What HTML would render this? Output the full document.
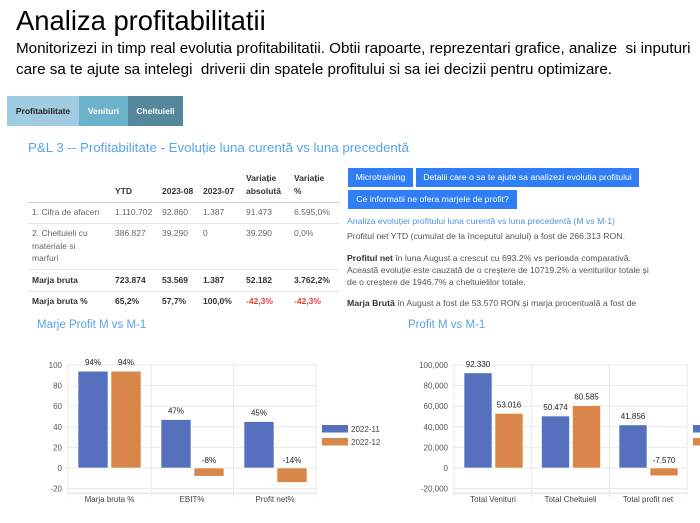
<!DOCTYPE html>
<html><head><meta charset="utf-8">
<style>
*{margin:0;padding:0;box-sizing:border-box}
html,body{width:700px;height:523px;overflow:hidden;background:#fff}
body{position:relative;font-family:"Liberation Sans",sans-serif;color:#333}
.a{position:absolute;white-space:nowrap}
.tab{position:absolute;top:96px;height:30px;line-height:30px;font-size:8.5px;font-weight:bold;text-align:center}
.btn{position:absolute;background:#2f7ef6;color:#fff;font-size:8.7px;text-align:center;height:19px;line-height:19px}
.t{position:absolute;font-size:8.5px;line-height:12.5px;white-space:nowrap}
.h{font-weight:bold;color:#333}
.b{color:#666}
.m{font-weight:bold;color:#333}
.r{color:#ee3b3b}
.line{position:absolute;left:28px;width:311px;height:1px;background:#e6e6e6}
.p{position:absolute;left:347px;font-size:8.7px;line-height:12px;color:#555;white-space:nowrap}
.p b{color:#333}
</style></head><body>

<div class="a" style="left:16px;top:5px;font-size:27.4px;line-height:32px;color:#000;">Analiza profitabilitatii</div>
<div class="a" style="left:16px;top:38px;font-size:15.2px;line-height:21px;color:#000;">Monitorizezi in timp real evolutia profitabilitatii. Obtii rapoarte, reprezentari grafice, analize&nbsp; si inputuri<br>care sa te ajute sa intelegi&nbsp; driverii din spatele profitului si sa iei decizii pentru optimizare.</div>

<div class="tab" style="left:7px;width:72px;background:#a0cbe3;color:#222;">Profitabilitate</div>
<div class="tab" style="left:79px;width:49px;background:#6db2cb;color:#fff;">Venituri</div>
<div class="tab" style="left:128px;width:55px;background:#55889d;color:#fff;">Cheltuieli</div>

<div class="a" style="left:28px;top:140px;font-size:13.3px;line-height:16px;color:#5aa2e6;">P&amp;L 3 -- Profitabilitate - Evoluție luna curentă vs luna precedentă</div>

<!-- table -->
<div class="t h" style="left:246px;top:172px;">Variație<br>absolută</div>
<div class="t h" style="left:294px;top:172px;">Variație<br>%</div>
<div class="t h" style="left:115px;top:185px;">YTD</div>
<div class="t h" style="left:162px;top:185px;">2023-08</div>
<div class="t h" style="left:203px;top:185px;">2023-07</div>
<div class="line" style="top:202px;background:#cfcfcf;"></div>

<div class="t b" style="left:32px;top:206px;">1. Cifra de afaceri</div>
<div class="t b" style="left:115px;top:206px;">1.110.702</div>
<div class="t b" style="left:162px;top:206px;">92.860</div>
<div class="t b" style="left:203px;top:206px;">1.387</div>
<div class="t b" style="left:246px;top:206px;">91.473</div>
<div class="t b" style="left:294px;top:206px;">6.595,0%</div>
<div class="line" style="top:223px;"></div>

<div class="t b" style="left:32px;top:227px;">2. Cheltuieli cu<br>materiale si<br>marfuri</div>
<div class="t b" style="left:115px;top:227px;">386.827</div>
<div class="t b" style="left:162px;top:227px;">39.290</div>
<div class="t b" style="left:203px;top:227px;">0</div>
<div class="t b" style="left:246px;top:227px;">39.290</div>
<div class="t b" style="left:294px;top:227px;">0,0%</div>
<div class="line" style="top:269px;"></div>

<div class="t m" style="left:32px;top:274px;">Marja bruta</div>
<div class="t m" style="left:115px;top:274px;">723.874</div>
<div class="t m" style="left:162px;top:274px;">53.569</div>
<div class="t m" style="left:203px;top:274px;">1.387</div>
<div class="t m" style="left:246px;top:274px;">52.182</div>
<div class="t m" style="left:294px;top:274px;">3.762,2%</div>
<div class="line" style="top:291px;"></div>

<div class="t m" style="left:32px;top:295px;">Marja bruta %</div>
<div class="t m" style="left:115px;top:295px;">65,2%</div>
<div class="t m" style="left:162px;top:295px;">57,7%</div>
<div class="t m" style="left:203px;top:295px;">100,0%</div>
<div class="t m r" style="left:246px;top:295px;">-42,3%</div>
<div class="t m r" style="left:294px;top:295px;">-42,3%</div>

<!-- buttons -->
<div class="btn" style="left:348px;top:168px;width:65px;">Microtraining</div>
<div class="btn" style="left:416px;top:168px;width:223px;">Detalii care o sa te ajute sa analizezi evolutia profitului</div>
<div class="btn" style="left:348px;top:190px;width:169px;">Ce informatii ne ofera marjele de profit?</div>

<div class="p" style="top:215px;color:#4e95dc;">Analiza evoluției profitului luna curentă vs luna precedentă (M vs M-1)</div>
<div class="p" style="top:230px;">Profitul net YTD (cumulat de la începutul anului) a fost de 266.313 RON.</div>
<div class="p" style="top:252px;"><b>Profitul net</b> în luna August a crescut cu 693.2% vs perioada comparativă.<br>Această evoluție este cauzată de o creștere de 10719.2% a veniturilor totale și<br>de o creștere de 1946.7% a cheltuielilor totale.</div>
<div class="p" style="top:297px;"><b>Marja Brută</b> în August a fost de 53.570 RON și marja procentuală a fost de</div>

<div class="a" style="left:37px;top:318px;font-size:11.5px;line-height:14px;color:#5aa2e6;">Marje Profit M vs M-1</div>
<div class="a" style="left:408px;top:318px;font-size:11.5px;line-height:14px;color:#5aa2e6;">Profit M vs M-1</div>

<svg class="a" style="left:0;top:0" width="700" height="523" viewBox="0 0 700 523" font-family="Liberation Sans, sans-serif">
<g stroke="#e8e8e8" stroke-width="1">
<line x1="68" y1="365" x2="316" y2="365"/>
<line x1="68" y1="385.6" x2="316" y2="385.6"/>
<line x1="68" y1="406.2" x2="316" y2="406.2"/>
<line x1="68" y1="426.8" x2="316" y2="426.8"/>
<line x1="68" y1="447.4" x2="316" y2="447.4"/>
<line x1="68" y1="468" x2="316" y2="468"/>
<line x1="68" y1="488.6" x2="316" y2="488.6"/>
<line x1="68" y1="363" x2="68" y2="497"/>
<line x1="151" y1="363" x2="151" y2="497"/>
<line x1="233.5" y1="363" x2="233.5" y2="497"/>
<line x1="316" y1="363" x2="316" y2="497"/>
<line x1="68" y1="493" x2="316" y2="493" stroke="#dcdcdc"/>

<line x1="454" y1="365" x2="687" y2="365"/>
<line x1="454" y1="385.6" x2="687" y2="385.6"/>
<line x1="454" y1="406.2" x2="687" y2="406.2"/>
<line x1="454" y1="426.8" x2="687" y2="426.8"/>
<line x1="454" y1="447.4" x2="687" y2="447.4"/>
<line x1="454" y1="468" x2="687" y2="468"/>
<line x1="454" y1="488.6" x2="687" y2="488.6"/>
<line x1="454" y1="363" x2="454" y2="497"/>
<line x1="531.7" y1="363" x2="531.7" y2="497"/>
<line x1="609.3" y1="363" x2="609.3" y2="497"/>
<line x1="687" y1="363" x2="687" y2="497"/>
<line x1="454" y1="493" x2="687" y2="493" stroke="#dcdcdc"/>
</g>
<g font-size="8" fill="#555" text-anchor="end">
<text x="62" y="368">100</text><text x="62" y="388.6">80</text><text x="62" y="409.2">60</text><text x="62" y="429.8">40</text><text x="62" y="450.4">20</text><text x="62" y="471">0</text><text x="62" y="491.6">-20</text>
<text x="448" y="368">100,000</text><text x="448" y="388.6">80,000</text><text x="448" y="409.2">60,000</text><text x="448" y="429.8">40,000</text><text x="448" y="450.4">20,000</text><text x="448" y="471">0</text><text x="448" y="491.6">-20,000</text>
</g>
<g stroke="#fff" stroke-width="0.6">
<rect x="78" y="371.2" width="30" height="96.8" fill="#5571bd"/>
<rect x="111" y="371.2" width="30" height="96.8" fill="#d9864a"/>
<rect x="161" y="419.6" width="30" height="48.4" fill="#5571bd"/>
<rect x="194" y="468" width="30" height="8.2" fill="#d9864a"/>
<rect x="244" y="421.6" width="30" height="46.4" fill="#5571bd"/>
<rect x="277" y="468" width="30" height="14.4" fill="#d9864a"/>

<rect x="464" y="372.9" width="28" height="95.1" fill="#5571bd"/>
<rect x="495" y="413.4" width="28" height="54.6" fill="#d9864a"/>
<rect x="541.5" y="416" width="28" height="52" fill="#5571bd"/>
<rect x="572.5" y="405.6" width="28" height="62.4" fill="#d9864a"/>
<rect x="619" y="424.9" width="28" height="43.1" fill="#5571bd"/>
<rect x="650" y="468" width="28" height="7.8" fill="#d9864a"/>
</g>
<g font-size="8" fill="#222" text-anchor="middle">
<text x="93" y="365">94%</text><text x="126" y="365">94%</text>
<text x="176" y="413.6">47%</text><text x="209" y="463">-8%</text>
<text x="259" y="415.6">45%</text><text x="292" y="463">-14%</text>
<text x="478" y="366.9">92.330</text><text x="509" y="407.4">53.016</text>
<text x="555.5" y="410">50.474</text><text x="586.5" y="399.6">60.585</text>
<text x="633" y="418.9">41.856</text><text x="664" y="463">-7.570</text>
</g>
<g font-size="8" fill="#444" text-anchor="middle">
<text x="109.5" y="502">Marja bruta %</text><text x="192" y="502">EBIT%</text><text x="275" y="502">Profit net%</text>
<text x="493" y="502">Total Venituri</text><text x="570.5" y="502">Total Cheltuieli</text><text x="648" y="502">Total profit net</text>
</g>
<rect x="322" y="425" width="26" height="7.5" fill="#5571bd"/>
<rect x="322" y="438" width="26" height="7.5" fill="#d9864a"/>
<g font-size="8" fill="#444"><text x="351" y="432">2022-11</text><text x="351" y="445">2022-12</text></g>
<rect x="693" y="425" width="12" height="7.5" fill="#5571bd"/>
<rect x="693" y="438" width="12" height="7.5" fill="#d9864a"/>
</svg>
</body></html>
